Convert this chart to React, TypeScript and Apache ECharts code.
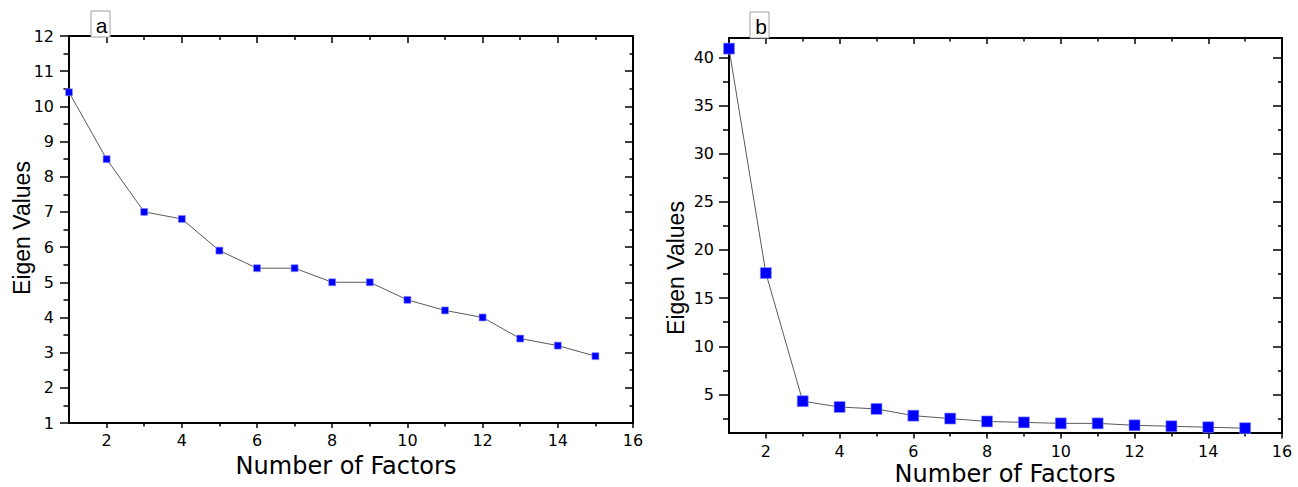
import React, { useEffect, useRef } from "react";
import * as echarts from "echarts";

const factors = [1, 2, 3, 4, 5, 6, 7, 8, 9, 10, 11, 12, 13, 14, 15];
const eigenA = [10.4, 8.5, 7.0, 6.8, 5.9, 5.4, 5.4, 5.0, 5.0, 4.5, 4.2, 4.0, 3.4, 3.2, 2.9];
const eigenB = [40.9, 17.6, 4.3, 3.7, 3.5, 2.8, 2.5, 2.2, 2.1, 2.0, 2.0, 1.8, 1.7, 1.6, 1.5];

const xMajorTicks = [2, 4, 6, 8, 10, 12, 14, 16];
const xMinorTicks = [3, 5, 7, 9, 11, 13, 15];
const yMajorA = [1, 2, 3, 4, 5, 6, 7, 8, 9, 10, 11, 12];
const yMinorA = [1.5, 2.5, 3.5, 4.5, 5.5, 6.5, 7.5, 8.5, 9.5, 10.5, 11.5];
const yMajorB = [5, 10, 15, 20, 25, 30, 35, 40];
const yMinorB = [2.5, 7.5, 12.5, 17.5, 22.5, 27.5, 32.5, 37.5];

const panelLabels = ["a", "b"];
const xTitle = "Number of Factors";
const yTitle = "Eigen Values";

function mkAxis(
  gridIndex: number,
  position: string,
  min: number,
  max: number,
  values: number[],
  len: number,
  inside: boolean,
  showLabel: boolean,
  showLine: boolean,
  margin: number
) {
  return {
    type: "value",
    gridIndex,
    position,
    min,
    max,
    axisLine: { show: showLine, onZero: false, lineStyle: { color: "#000", width: 2 } },
    axisTick: {
      show: true,
      inside,
      length: len,
      customValues: values,
      lineStyle: { color: "#000", width: 1.5 },
    },
    axisLabel: {
      show: showLabel,
      customValues: values,
      color: "#000",
      fontFamily: "DejaVu Sans",
      fontSize: 16,
      margin,
    },
    splitLine: { show: false },
    minorTick: { show: false },
  };
}

export default function App() {
  const ref = useRef<HTMLDivElement>(null);
  useEffect(() => {
    if (!ref.current) return;
    const chart = echarts.init(ref.current, null, { renderer: "svg" });
    const xAxes = [
      // grid 0
      mkAxis(0, "bottom", 1, 16, xMajorTicks, 5, false, true, true, 9),
      mkAxis(0, "bottom", 1, 16, xMinorTicks, 3.5, false, false, false, 9),
      mkAxis(0, "top", 1, 16, xMajorTicks, 7, true, false, true, 8),
      mkAxis(0, "top", 1, 16, xMinorTicks, 4, true, false, false, 8),
      // grid 1
      mkAxis(1, "bottom", 1, 16, xMajorTicks, 5.5, false, true, true, 10),
      mkAxis(1, "bottom", 1, 16, xMinorTicks, 3.5, false, false, false, 10),
      mkAxis(1, "top", 1, 16, xMajorTicks, 6, true, false, true, 8),
      mkAxis(1, "top", 1, 16, xMinorTicks, 3.5, true, false, false, 8),
    ];
    const yAxes = [
      mkAxis(0, "left", 1, 12, yMajorA, 9, false, true, true, 15),
      mkAxis(0, "left", 1, 12, yMinorA, 5.5, false, false, false, 15),
      mkAxis(0, "right", 1, 12, yMajorA, 8, true, false, true, 8),
      mkAxis(0, "right", 1, 12, yMinorA, 3.5, true, false, false, 8),
      mkAxis(1, "left", 1, 42, yMajorB, 10, false, true, true, 15),
      mkAxis(1, "left", 1, 42, yMinorB, 6, false, false, false, 15),
      mkAxis(1, "right", 1, 42, yMajorB, 9, true, false, true, 8),
      mkAxis(1, "right", 1, 42, yMinorB, 4, true, false, false, 8),
    ];
    const boxes = [
      { x: 91, y: 11, cx: 101.5, cy: 25 },
      { x: 750, y: 12, cx: 761, cy: 26 },
    ];
    const titles = [
      { xx: 346, xy: 466, yx: 22, yy: 228 },
      { xx: 1005, xy: 474, yx: 676, yy: 268 },
    ];
    const graphic: any[] = [];
    boxes.forEach((b, i) => {
      graphic.push({
        type: "rect",
        shape: { x: b.x, y: b.y, width: 19, height: 26 },
        style: { fill: "#fff", stroke: "#a0a0a0", lineWidth: 1 },
        z: 1,
      });
      graphic.push({
        type: "text",
        x: b.cx,
        y: b.cy,
        style: {
          text: panelLabels[i],
          fill: "#000",
          font: "21px 'Liberation Sans', Arial, sans-serif",
          align: "center",
          verticalAlign: "middle",
        },
        z: 2,
      });
    });
    titles.forEach((t) => {
      graphic.push({
        type: "text",
        x: t.xx,
        y: t.xy,
        style: {
          text: xTitle,
          fill: "#000",
          font: "24px 'DejaVu Sans', sans-serif",
          align: "center",
          verticalAlign: "middle",
        },
      });
      graphic.push({
        type: "text",
        x: t.yx,
        y: t.yy,
        rotation: Math.PI / 2,
        style: {
          text: yTitle,
          fill: "#000",
          font: "23px 'Liberation Sans', Arial, sans-serif",
          align: "center",
          verticalAlign: "middle",
        },
      });
    });

    const mkSeries = (vals: number[], xi: number, yi: number, size: number) => ({
      type: "line",
      xAxisIndex: xi,
      yAxisIndex: yi,
      data: factors.map((f, i) => [f, vals[i]]),
      symbol: "rect",
      symbolSize: size,
      showAllSymbol: true,
      clip: false,
      itemStyle: { color: "#0000ff", borderColor: "#8f8fff", borderWidth: 0.6 },
      lineStyle: { color: "#303030", width: 0.8 },
      z: 3,
    });

    chart.setOption({
      animation: false,
      backgroundColor: "#fff",
      grid: [
        { left: 69, top: 36, width: 564, height: 387 },
        { left: 729, top: 38, width: 553, height: 395 },
      ],
      xAxis: xAxes,
      yAxis: yAxes,
      series: [mkSeries(eigenA, 0, 0, 7), mkSeries(eigenB, 4, 4, 11)],
      graphic,
    } as any);
    return () => chart.dispose();
  }, []);
  return (
    <div
      ref={ref}
      style={{ position: "fixed", left: 0, top: 0, width: 1298, height: 487 }}
    />
  );
}
